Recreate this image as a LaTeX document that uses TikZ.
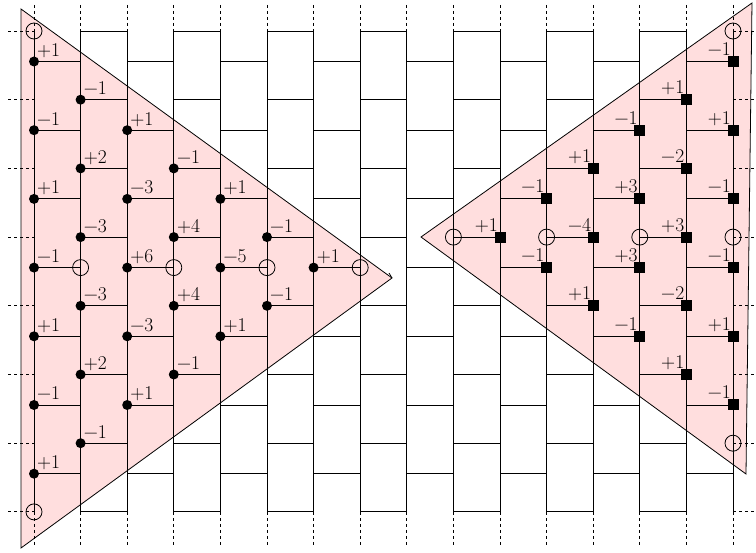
\documentclass[tikz,border=0pt]{standalone}
\usepackage{fontspec}
\setmainfont{Latin Modern Roman}
\newcommand\labfont{\fontsize{19.5}{23}\selectfont}
\begin{document}
\begin{tikzpicture}[x=1pt,y=-1pt,
  lat/.style={line width=0.9pt},
  stub/.style={line width=0.8pt,dashed},
  trifill/.style={fill=red!13},
  triline/.style={line width=0.8pt,line join=miter},
  dotnode/.style={circle,fill=black,inner sep=0pt,minimum size=10pt},
  sqnode/.style={rectangle,fill=black,inner sep=0pt,minimum size=11pt},
  opn/.style={circle,draw=black,line width=0.8pt,inner sep=0pt,minimum size=16pt},
  lab/.style={inner sep=0pt}
]
\useasboundingbox (0,0) rectangle (756,553);
% triangles (fill)
\coordinate (LT) at (21,9);
\coordinate (LA) at (392,278);
\coordinate (LB) at (21,548);
\coordinate (RT) at (752,3);
\coordinate (RA) at (421,237);
\coordinate (RB) at (746,474);
\fill[trifill] (LT) -- (LA) -- (LB) -- cycle;
\fill[trifill] (RT) -- (RA) -- (RB) -- cycle;
% lattice verticals
\foreach \i in {0,...,15}{
  \pgfmathsetmacro\xx{34+46.6*\i}
  \draw[lat] (\xx,31) -- (\xx,512);
  \draw[stub] (\xx,5) -- (\xx,31);
  \draw[stub] (\xx,512) -- (\xx,545);
}
% lattice horizontals
\foreach \i in {0,...,14}{
  \pgfmathsetmacro\xa{34+46.6*\i}
  \pgfmathsetmacro\xb{34+46.6*(\i+1)}
  \pgfmathtruncatemacro\odd{mod(\i,2)}
  \ifnum\odd=1
    \foreach \k in {0,...,7}{
      \pgfmathsetmacro\yy{31+68.7*\k}
      \draw[lat] (\xa,\yy) -- (\xb,\yy);
    }
  \else
    \foreach \k in {0,...,6}{
      \pgfmathsetmacro\yy{61.5+68.7*\k}
      \draw[lat] (\xa,\yy) -- (\xb,\yy);
    }
  \fi
}
% side stubs
\foreach \k in {0,...,7}{
  \pgfmathsetmacro\yy{31+68.7*\k}
  \draw[stub] (8,\yy) -- (34,\yy);
  \draw[stub] (733,\yy) -- (756,\yy);
}
% triangle outlines
\draw[triline] (LT) -- (LA) -- (LB) -- cycle;
\draw[triline] (LA) -- (389,273);
\draw[triline] (RT) -- (RA) -- (RB) -- cycle;
% open circles, left
\foreach \i/\b/\k [count=\n] in {0/31/0, 0/31/7, 1/61.5/3, 3/61.5/3, 5/61.5/3, 7/61.5/3}{
  \pgfmathsetmacro\xx{34+46.6*\i}
  \pgfmathsetmacro\yy{\b+68.7*\k}
  \node[opn] (lc\n) at (\xx,\yy) {};
}
% open circles, right
\foreach \i/\b/\k [count=\n] in {15/31/0, 15/31/3, 15/31/6, 9/31/3, 11/31/3, 13/31/3}{
  \pgfmathsetmacro\xx{34+46.6*\i}
  \pgfmathsetmacro\yy{\b+68.7*\k}
  \node[opn] (rc\n) at (\xx,\yy) {};
}
% left dots with labels
\foreach \i/\b/\k/\l [count=\n] in {
  0/61.5/0/+1, 0/61.5/1/−1, 0/61.5/2/+1, 0/61.5/3/−1, 0/61.5/4/+1, 0/61.5/5/−1, 0/61.5/6/+1,
  1/31/1/−1, 1/31/2/+2, 1/31/3/−3, 1/31/4/−3, 1/31/5/+2, 1/31/6/−1,
  2/61.5/1/+1, 2/61.5/2/−3, 2/61.5/3/+6, 2/61.5/4/−3, 2/61.5/5/+1,
  3/31/2/−1, 3/31/3/+4, 3/31/4/+4, 3/31/5/−1,
  4/61.5/2/+1, 4/61.5/3/−5, 4/61.5/4/+1,
  5/31/3/−1, 5/31/4/−1,
  6/61.5/3/+1}{
  \pgfmathsetmacro\xx{34+46.6*\i}
  \pgfmathsetmacro\yy{\b+68.7*\k}
  \node[dotnode] (ld\n) at (\xx,\yy) {};
  \node[lab,anchor=base west] (ll\n) at (\xx+3,\yy-5) {\labfont\l};
}
% right squares with labels
\foreach \i/\b/\k/\l [count=\n] in {
  15/61.5/0/−1, 15/61.5/1/+1, 15/61.5/2/−1, 15/61.5/3/−1, 15/61.5/4/+1, 15/61.5/5/−1,
  14/31/1/+1, 14/31/2/−2, 14/31/3/+3, 14/31/4/−2, 14/31/5/+1,
  13/61.5/1/−1, 13/61.5/2/+3, 13/61.5/3/+3, 13/61.5/4/−1,
  12/31/2/+1, 12/31/3/−4, 12/31/4/+1,
  11/61.5/2/−1, 11/61.5/3/−1,
  10/31/3/+1}{
  \pgfmathsetmacro\xx{34+46.6*\i}
  \pgfmathsetmacro\yy{\b+68.7*\k}
  \node[sqnode] (rs\n) at (\xx,\yy) {};
  \node[lab,anchor=base east] (rl\n) at (\xx-2,\yy-6) {\labfont\l};
}
\end{tikzpicture}
\end{document}
